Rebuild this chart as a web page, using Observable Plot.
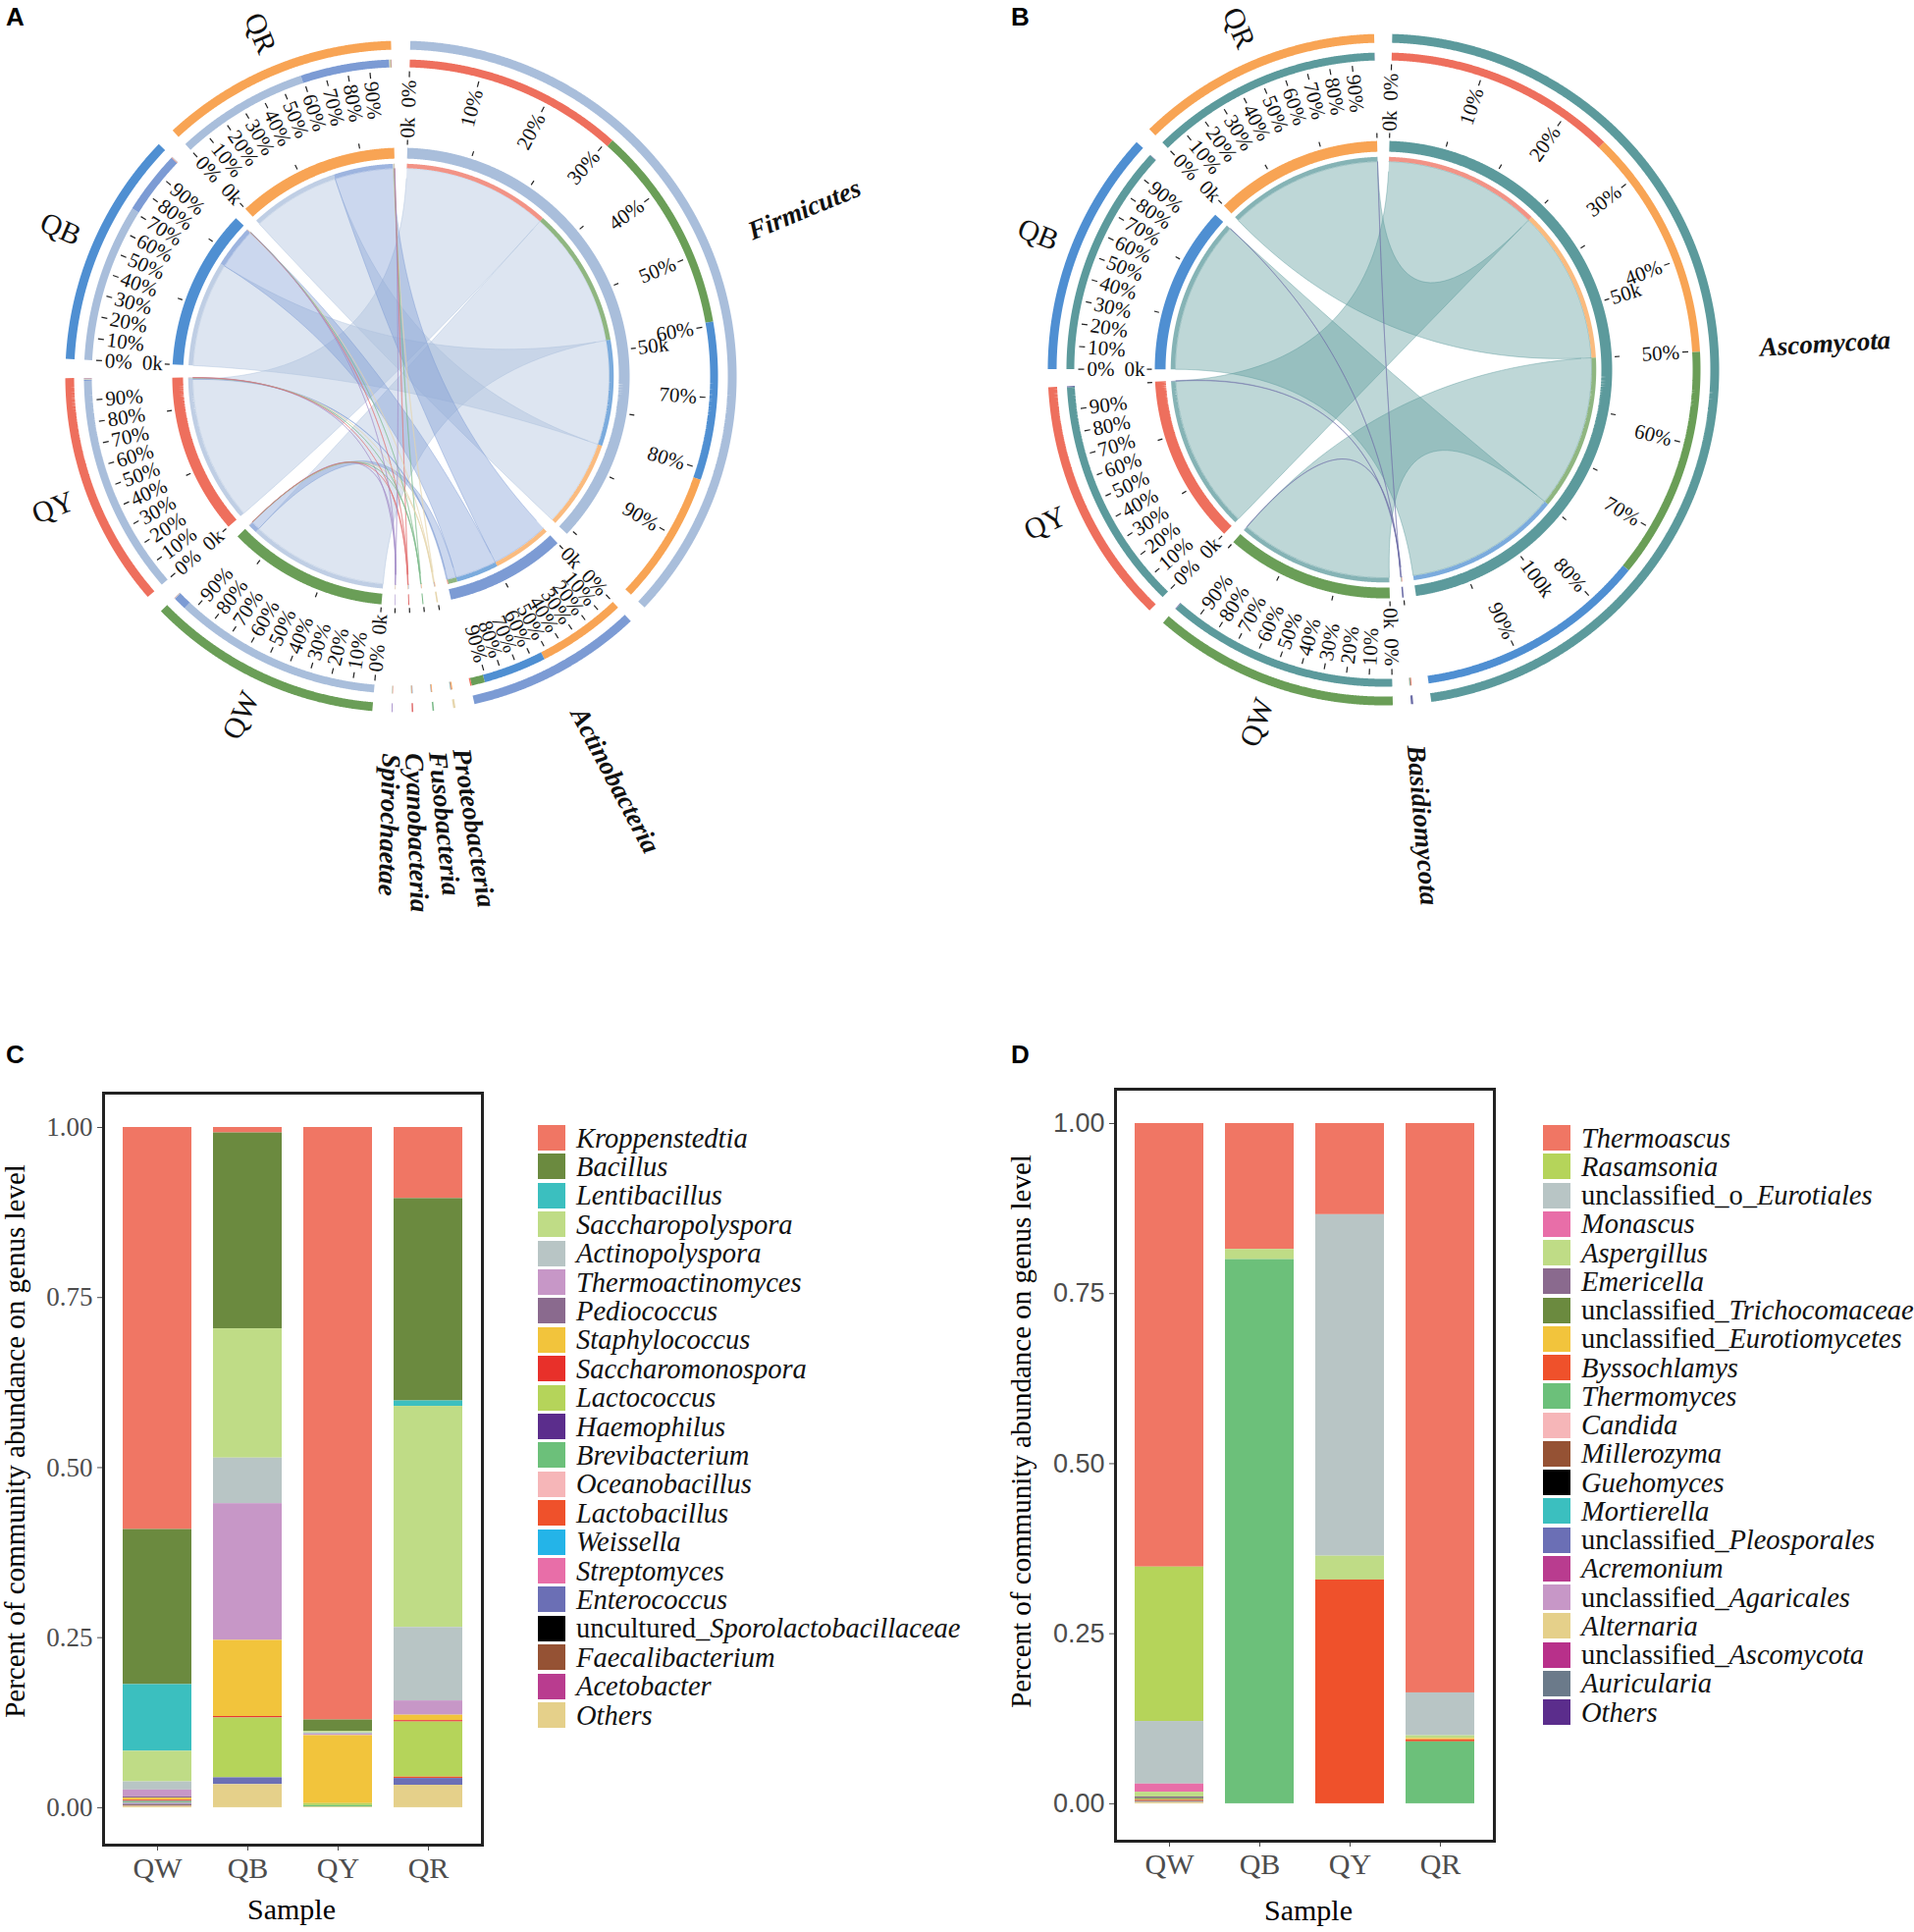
<!DOCTYPE html>
<html><head><meta charset="utf-8">
<script src="https://cdn.jsdelivr.net/npm/d3@7"></script>
<script src="https://cdn.jsdelivr.net/npm/@observablehq/plot@0.6"></script>
<style>
body{margin:0;background:#fff;}
#page{position:relative;width:1950px;height:1968px;overflow:hidden;background:#fff;font-family:"Liberation Serif","Times New Roman",serif;color:#111;}
.plab{position:absolute;font-family:"Liberation Sans",Arial,sans-serif;font-weight:bold;font-size:26px;line-height:26px;color:#000;}
.lrow{position:absolute;display:flex;align-items:center;height:29px;}
.sw{width:28px;height:26px;margin-right:11px;flex:none;}
.lt{font-size:28.5px;white-space:nowrap;line-height:29px;}
.ytitle{position:absolute;font-size:29px;white-space:nowrap;transform:translate(-50%,-50%) rotate(-90deg);color:#000;}
.xtitle{position:absolute;font-size:30px;white-space:nowrap;transform:translate(-50%,-50%);color:#000;}
</style></head><body><div id="page"></div>
<script>
// ---------------- DATA ----------------
// Panel A: bacterial phyla reads (thousands) per sample, in phylaA order
const samplesA = ["QW", "QY", "QB", "QR"];
const phylaA = ["Firmicutes", "Actinobacteria", "Proteobacteria", "Fusobacteria", "Cyanobacteria", "Spirochaetae"];
const readsA_QW = [23.4, 1.5, 0.03, 0.02, 0.02, 0.03];
const readsA_QY = [24.7, 0.15, 0.05, 0.04, 0.03, 0.04];
const readsA_QB = [17.8, 7.1, 0.04, 0.02, 0.06, 0.01];
const readsA_QR = [15.0, 10.0, 0.12, 0.08, 0.05, 0.01];
const phylaColorsA = ["#a9bedb", "#7c9bd4", "#e6d6ad", "#7dbb8a", "#e07070", "#a38bc9"];

// Panel B: fungal phyla reads (thousands) per sample
const samplesB = ["QW", "QY", "QB", "QR"];
const phylaB = ["Ascomycota", "Basidiomycota"];
const readsB_QW = [29.93, 0.08];
const readsB_QY = [30.0, 0.12];
const readsB_QB = [29.9, 0.05];
const readsB_QR = [29.97, 0.03];
const phylaColorsB = ["#5c9a9c", "#6e6fa8"];

const sampleColors = {QW: "#6a9e57", QY: "#ee6f5d", QB: "#4f8fd2", QR: "#f8a454"};

// Panel C: bacterial genera relative abundance
const samplesC = ["QW", "QB", "QY", "QR"];
const generaC = ["Kroppenstedtia", "Bacillus", "Lentibacillus", "Saccharopolyspora", "Actinopolyspora", "Thermoactinomyces", "Pediococcus", "Staphylococcus", "Saccharomonospora", "Lactococcus", "Haemophilus", "Brevibacterium", "Oceanobacillus", "Lactobacillus", "Weissella", "Streptomyces", "Enterococcus", "uncultured_Sporolactobacillaceae", "Faecalibacterium", "Acetobacter", "Others"];
const colorsC = ["#f07664", "#6b8a3f", "#3bbfbf", "#bfdc86", "#b8c5c5", "#c797c7", "#8a6a8e", "#f2c43c", "#e8302a", "#b5d45a", "#5b2d8c", "#6cc07a", "#f6b6b8", "#ef512b", "#24b4e8", "#e86ea8", "#6b6fb5", "#000000", "#955234", "#b93c8f", "#e5d08a"];
const valuesC_QW = [0.591, 0.228, 0.098, 0.045, 0.012, 0.010, 0.002, 0.003, 0.001, 0.001, 0.001, 0.001, 0.0005, 0.0005, 0.0005, 0.0005, 0.001, 0.0005, 0.001, 0.0005, 0.002];
const valuesC_QB = [0.008, 0.288, 0, 0.19, 0.067, 0.201, 0, 0.112, 0.002, 0.088, 0, 0, 0, 0, 0, 0, 0.01, 0, 0, 0, 0.034];
const valuesC_QY = [0.871, 0.017, 0, 0.002, 0.002, 0.002, 0, 0.1, 0, 0.003, 0, 0.002, 0, 0, 0, 0, 0, 0, 0, 0, 0.001];
const valuesC_QR = [0.1045, 0.2975, 0.008, 0.325, 0.108, 0.021, 0, 0.008, 0.002, 0.081, 0, 0, 0, 0.002, 0, 0, 0.01, 0, 0, 0, 0.033];

// Panel D: fungal genera relative abundance
const samplesD = ["QW", "QB", "QY", "QR"];
const generaD = ["Thermoascus", "Rasamsonia", "unclassified_o_Eurotiales", "Monascus", "Aspergillus", "Emericella", "unclassified_Trichocomaceae", "unclassified_Eurotiomycetes", "Byssochlamys", "Thermomyces", "Candida", "Millerozyma", "Guehomyces", "Mortierella", "unclassified_Pleosporales", "Acremonium", "unclassified_Agaricales", "Alternaria", "unclassified_Ascomycota", "Auricularia", "Others"];
const colorsD = ["#f07664", "#b5d45a", "#b8c5c5", "#e86ea8", "#bfdc86", "#8a6a8e", "#6b8a3f", "#f2c43c", "#ef512b", "#6cc07a", "#f6b6b8", "#955234", "#000000", "#3bbfbf", "#6b6fb5", "#b93c8f", "#c797c7", "#e5d08a", "#b8308a", "#6b7a8a", "#5b2d8c"];
const valuesD_QW = [0.652, 0.227, 0.092, 0.012, 0.007, 0.002, 0.002, 0.001, 0.001, 0, 0, 0.001, 0, 0, 0.001, 0, 0, 0.002, 0, 0, 0];
const valuesD_QB = [0.185, 0, 0, 0, 0.015, 0, 0, 0, 0, 0.80, 0, 0, 0, 0, 0, 0, 0, 0, 0, 0, 0];
const valuesD_QY = [0.134, 0, 0.502, 0, 0.035, 0, 0, 0, 0.329, 0, 0, 0, 0, 0, 0, 0, 0, 0, 0, 0, 0];
const valuesD_QR = [0.837, 0, 0.063, 0, 0.004, 0, 0, 0.002, 0.003, 0.091, 0, 0, 0, 0, 0, 0, 0, 0, 0, 0, 0];

const yTicks = [0, 0.25, 0.5, 0.75, 1];
const pctSteps = [0, 10, 20, 30, 40, 50, 60, 70, 80, 90];

// ---------------- LAYOUT HELPERS ----------------
const page = document.getElementById("page");
function place(el, left, top) { el.style.position = "absolute"; el.style.left = left + "px"; el.style.top = top + "px"; page.appendChild(el); return el; }
function div(cls, html, left, top) { const d = document.createElement("div"); d.className = cls; d.innerHTML = html; return place(d, left, top); }

const SERIF = "Liberation Serif, Times New Roman, serif";
const SANS = "Liberation Sans, Arial, sans-serif";
const R = {chord: 212, stripe: 214.5, inner: 227.5, kt0: 236, kt1: 241, kLab: 243, pLab: 302, pt0: 305, pt1: 311, comp: 319, outer: 337.5, sLab: 357, phLab: 384};

function chordPanel(cfg) {
  const {phyla, phylaCols, samples, reads, cx, cy, W, H, padDeg, offDeg} = cfg;
  const rad = Math.PI / 180, off = offDeg * rad;
  const names = phyla.concat(samples);
  const cols = phylaCols.concat(samples.map(s => sampleColors[s]));
  const np = phyla.length;
  const M = names.map(() => names.map(() => 0));
  reads.forEach((row, si) => row.forEach((v, pi) => { M[pi][np + si] = v; M[np + si][pi] = v; }));
  const ch = d3.chord().padAngle(padDeg * rad).sortSubgroups(d3.descending)(M);
  const P = (a, r) => [cx + r * Math.sin(a + off), cy - r * Math.cos(a + off)];
  const deg = a => (((a + off) / rad) % 360 + 360) % 360;
  const arc = (rows, id, a0, a1, r, color) => {
    const m = Math.max(2, Math.ceil(Math.abs(a1 - a0) / 0.003) + 1);
    for (let i = 0; i < m; i++) { const [x, y] = P(a0 + (a1 - a0) * i / (m - 1), r); rows.push({id, x, y, color}); }
  };
  const quad = (rows, id, p0, p2, color) => {
    for (let i = 1; i < 40; i++) {
      const u = i / 40;
      rows.push({id, color, x: (1 - u) ** 2 * p0[0] + 2 * (1 - u) * u * cx + u * u * p2[0], y: (1 - u) ** 2 * p0[1] + 2 * (1 - u) * u * cy + u * u * p2[1]});
    }
  };
  const ribRows = [], stripeRows = [], compRows = [], innerRows = [], outerRows = [];
  const chords = Array.from(ch).sort((a, b) => (b.source.value + b.target.value) - (a.source.value + a.target.value));
  chords.forEach((c, ci) => {
    const s = c.source, t = c.target;
    const color = cols[Math.min(s.index, t.index)];
    const id = "r" + ci;
    arc(ribRows, id, s.startAngle, s.endAngle, R.chord, color);
    quad(ribRows, id, P(s.endAngle, R.chord), P(t.startAngle, R.chord), color);
    arc(ribRows, id, t.startAngle, t.endAngle, R.chord, color);
    quad(ribRows, id, P(t.endAngle, R.chord), P(s.startAngle, R.chord), color);
    [[s, t.index], [t, s.index]].forEach(([e, partner], k) => {
      arc(stripeRows, id + "s" + k, e.startAngle, e.endAngle, R.stripe, cols[partner]);
      arc(compRows, id + "c" + k, e.startAngle, e.endAngle, R.comp, cols[partner]);
    });
  });
  const kTicks = [], kLabR = [], kLabL = [], pTicks = [], pLabR = [], pLabL = [], sLab = [], phLab = [];
  const seg = (arr, a, r0, r1) => { const [x1, y1] = P(a, r0), [x2, y2] = P(a, r1); arr.push({x1, y1, x2, y2}); };
  ch.groups.forEach(g => {
    arc(innerRows, "g" + g.index, g.startAngle, g.endAngle, R.inner, cols[g.index]);
    arc(outerRows, "o" + g.index, g.startAngle, g.endAngle, R.outer, cols[g.index]);
    const span = g.endAngle - g.startAngle, kk = span / g.value;
    for (let v = 0; v <= g.value + 1e-9; v += 10) {
      const a = g.startAngle + v * kk;
      seg(kTicks, a, R.kt0, R.kt1);
      if (v % 50 === 0 && g.value >= 1) {
        const th = deg(a), [x, y] = P(a, R.kLab);
        if (th < 180) kLabR.push({x, y, t: v + "k", rot: th - 90});
        else kLabL.push({x, y, t: v + "k", rot: th + 90});
      }
    }
    if (span > 4 * rad) {
      pctSteps.forEach(p => {
        const a = g.startAngle + span * p / 100;
        seg(pTicks, a, R.pt0, R.pt1);
        const th = deg(a), [x, y] = P(a, R.pLab);
        if (th < 180) pLabR.push({x, y, t: p + "%", rot: th - 90});
        else pLabL.push({x, y, t: p + "%", rot: th + 90});
      });
    }
    const am = (g.startAngle + g.endAngle) / 2, th = deg(am);
    if (g.index >= np) { const [x, y] = P(am, R.sLab); sLab.push({x, y, t: names[g.index], rot: th + 90}); }
    else { const [x, y] = P(am, R.phLab); phLab.push({x, y, t: names[g.index], rot: th - 90}); }
  });
  const band = (rows, w, op) => Plot.line(rows, {x: "x", y: "y", z: "id", stroke: d => d.color, strokeWidth: w, strokeOpacity: op, strokeLinecap: "butt", strokeLinejoin: "miter"});
  const txt = (rows, anchor, size, extra) => Plot.text(rows, Object.assign({x: "x", y: "y", text: "t", rotate: d => d.rot, textAnchor: anchor, fontSize: size, fontFamily: SERIF, fill: "#111"}, extra || {}));
  return Plot.plot({
    width: W, height: H, margin: 0,
    x: {domain: [0, W], range: [0, W], axis: null},
    y: {domain: [0, H], range: [0, H], axis: null},
    color: {type: "identity"},
    style: {background: "transparent", overflow: "visible", fontFamily: SERIF},
    marks: [
      Plot.line(ribRows, {x: "x", y: "y", z: "id", fill: d => d.color, fillOpacity: 0.4, stroke: d => d.color, strokeOpacity: 0.55, strokeWidth: 0.8, curve: "linear"}),
      band(stripeRows, 4.5, 0.75),
      band(innerRows, 11, 1),
      band(compRows, 8, 1),
      band(outerRows, 9, 1),
      Plot.link(kTicks, {x1: "x1", y1: "y1", x2: "x2", y2: "y2", stroke: "#222", strokeWidth: 1.2}),
      Plot.link(pTicks, {x1: "x1", y1: "y1", x2: "x2", y2: "y2", stroke: "#222", strokeWidth: 1.2}),
      txt(kLabR, "start", 21), txt(kLabL, "end", 21),
      txt(pLabR, "end", 21), txt(pLabL, "start", 21),
      txt(sLab, "end", 30),
      txt(phLab, "start", 27, {fontStyle: "italic", fontWeight: "bold"})
    ]
  });
}

place(chordPanel({phyla: phylaA, phylaCols: phylaColorsA, samples: samplesA, reads: [readsA_QW, readsA_QY, readsA_QB, readsA_QR], cx: 408, cy: 383, W: 980, H: 980, padDeg: 3.3, offDeg: 1.6}), 0, 0);
place(chordPanel({phyla: phylaB, phylaCols: phylaColorsB, samples: samplesB, reads: [readsB_QW, readsB_QY, readsB_QB, readsB_QR], cx: 429, cy: 376, W: 970, H: 980, padDeg: 3.1, offDeg: 1.5}), 980, 0);

// ---------------- BAR PANELS ----------------
function barPanel(cfg) {
  const {genera, colors, samples, values, W, H, mL, mR, mT, mB, yFont} = cfg;
  const data = [];
  samples.forEach((s, si) => genera.forEach((g, gi) => data.push({sample: s, genus: g, value: values[si][gi]})));
  const svg = Plot.plot({
    width: W, height: H, marginLeft: mL, marginRight: mR, marginTop: mT, marginBottom: mB,
    style: {fontFamily: SERIF, fontSize: "30px", color: "#4d4d4d", background: "transparent", overflow: "visible"},
    x: {domain: samples, paddingInner: 0.24, paddingOuter: 0.217, tickSize: 6, tickPadding: 6, label: null},
    y: {domain: [-0.055, 1.0505], ticks: yTicks, tickFormat: d3.format(".2f"), tickSize: 6, tickPadding: 5, label: null},
    color: {domain: genera, range: colors},
    marks: [
      Plot.barY(data, {x: "sample", y: "value", fill: "genus", order: genera.slice().reverse()}),
      Plot.frame({stroke: "#222", strokeWidth: 3})
    ]
  });
  svg.querySelectorAll('[aria-label^="y-axis"]').forEach(g => { g.setAttribute("font-family", yFont); g.setAttribute("font-size", "27"); g.style.fontFamily = yFont; g.style.fontSize = "27px"; });
  return svg;
}

place(barPanel({genera: generaC, colors: colorsC, samples: samplesC, values: [valuesC_QW, valuesC_QB, valuesC_QY, valuesC_QR], W: 560, H: 888, mL: 105, mR: 69, mT: 33, mB: 89, yFont: SERIF}), 0, 1080);
place(barPanel({genera: generaD, colors: colorsD, samples: samplesD, values: [valuesD_QW, valuesD_QB, valuesD_QY, valuesD_QR], W: 560, H: 888, mL: 106, mR: 68, mT: 29, mB: 93, yFont: SANS}), 1030, 1080);

function fmtName(name) {
  const m = name.match(/^(unclassified_o_|unclassified_|uncultured_)(.*)$/);
  return m ? `<span>${m[1]}</span><i>${m[2]}</i>` : `<i>${name}</i>`;
}
function legend(genera, colors, left, top0, step) {
  genera.forEach((g, i) => {
    div("lrow", `<div class="sw" style="background:${colors[i]}"></div><div class="lt">${fmtName(g)}</div>`, left, top0 + i * step - 14.5);
  });
}
legend(generaC, colorsC, 548, 1159, 29.4);
legend(generaD, colorsD, 1572, 1159, 29.25);

// titles
div("ytitle", "Percent of community abundance on genus level", 15, 1468);
div("xtitle", "Sample", 297, 1945);
div("ytitle", "Percent of community abundance on genus level", 1040, 1458);
div("xtitle", "Sample", 1333, 1946);

// panel letters
div("plab", "A", 6, 4);
div("plab", "B", 1030, 4);
div("plab", "C", 6, 1061);
div("plab", "D", 1030, 1061);
</script></body></html>
